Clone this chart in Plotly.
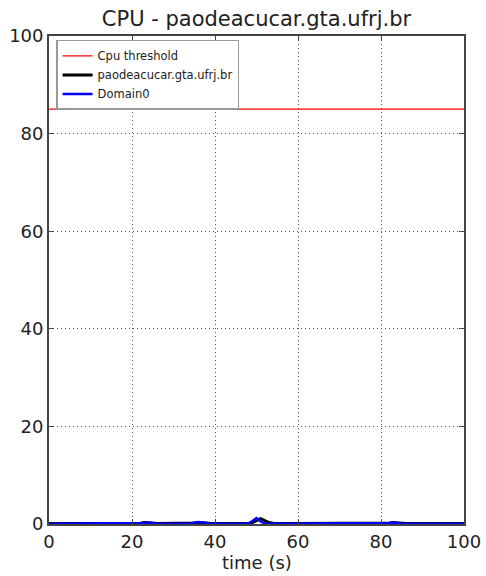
import plotly.graph_objects as go

time = list(range(0, 101))
threshold = [85] * len(time)
host = [0.1] * 101
for i, v in {22: 0.15, 23: 0.3, 24: 0.3, 25: 0.2, 35: 0.2, 36: 0.3, 37: 0.3, 38: 0.2,
             49: 0.3, 50: 0.7, 51: 1.1, 52: 0.7, 53: 0.3, 54: 0.15, 82: 0.2, 83: 0.3, 84: 0.2}.items():
    host[i] = v
domain0 = [0.05] * 101
for i, v in {23: 0.2, 24: 0.3, 25: 0.1, 35: 0.3, 36: 0.4, 37: 0.3, 38: 0.1,
             49: 0.6, 50: 1.2, 51: 0.5, 52: 0.1, 82: 0.2, 83: 0.3, 84: 0.1}.items():
    domain0[i] = v

xticks = [0, 20, 40, 60, 80, 100]
yticks = [0, 20, 40, 60, 80, 100]

fig = go.Figure()
fig.add_trace(go.Scatter(x=time, y=threshold, mode="lines", name="Cpu threshold",
                         line=dict(color="red", width=1.2)))
fig.add_trace(go.Scatter(x=time, y=host, mode="lines", name="paodeacucar.gta.ufrj.br",
                         line=dict(color="black", width=3)))
fig.add_trace(go.Scatter(x=time, y=domain0, mode="lines", name="Domain0",
                         line=dict(color="blue", width=2.5)))

font = "DejaVu Sans, sans-serif"
axis_common = dict(showline=True, linecolor="#444444", linewidth=1.8, mirror="ticks",
                   ticks="inside", ticklen=5, tickcolor="#444444", showgrid=True,
                   gridcolor="#555555", griddash="1px,3px", gridwidth=1, zeroline=False,
                   automargin=False,
                   tickfont=dict(family=font, size=18, color="#222222"))
fig.update_layout(
    width=486, height=576,
    margin=dict(l=49, r=22, t=36, b=52),
    paper_bgcolor="white", plot_bgcolor="white",
    title=dict(text="CPU - paodeacucar.gta.ufrj.br", x=0.5, xanchor="center", xref="paper",
               y=0.968, yanchor="middle", font=dict(family=font, size=21, color="#222222")),
    xaxis=dict(range=[0, 100], tickvals=xticks, **axis_common),
    yaxis=dict(range=[0, 100], tickvals=yticks, **axis_common),
    legend=dict(x=0.017, y=0.992, xanchor="left", yanchor="top", bgcolor="white",
                bordercolor="#999999", borderwidth=1.5,
                font=dict(family=font, size=11.5, color="#222222"),
                tracegroupgap=0, itemwidth=30),
    showlegend=True,
    annotations=[dict(text="time (s)", xref="paper", yref="paper", x=0.5, y=0,
                      xanchor="center", yanchor="top", yshift=-26, showarrow=False,
                      font=dict(family=font, size=18, color="#222222"))],
)
fig.write_html("out.html")
